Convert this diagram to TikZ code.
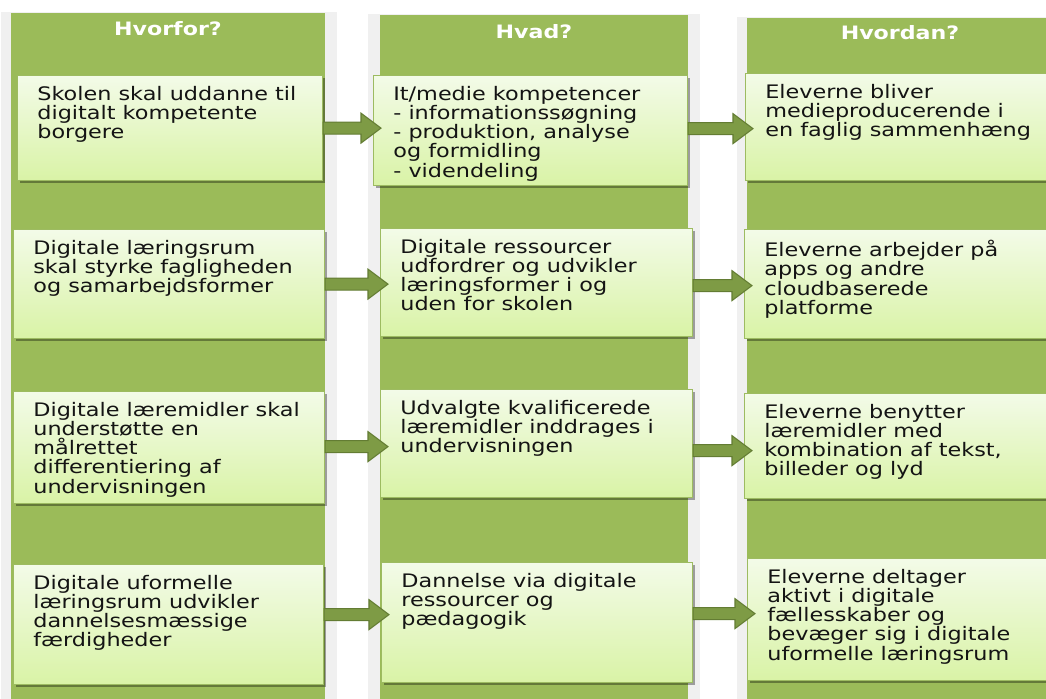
\documentclass[tikz,border=0pt]{standalone}
\usepackage{fontspec}
\setmainfont[FakeStretch=1.2]{DejaVu Sans}
\usetikzlibrary{positioning,calc,shadows}
\definecolor{colgreen}{HTML}{9BBB59}
\definecolor{boxtop}{HTML}{F3FBE8}
\definecolor{boxbot}{HTML}{D9F3A6}
\definecolor{boxline}{HTML}{9DBB61}
\definecolor{arrfill}{HTML}{7E9B45}
\definecolor{arrline}{HTML}{637C33}
\definecolor{framegray}{HTML}{F0F0F0}
\definecolor{bodytext}{HTML}{141414}

% block arrow from one box to the next, #3 = vertical shift in px
\newcommand{\stepArrow}[3]{%
  \coordinate (as) at ($(#1.east)+(0,#3)$);
  \coordinate (at) at ($(#2.west|-as)+(8,0)$);
  \draw[flowarrow] ($(as)+(0,-6)$) -- ($(at)+(-20,-6)$) -- ($(at)+(-20,-15)$) -- (at)
    -- ($(at)+(-20,15)$) -- ($(at)+(-20,6)$) -- ($(as)+(0,6)$) -- cycle;
}

\begin{document}
\begin{tikzpicture}[x=0.02cm,y=-0.02cm]
\tikzset{cellbox/.style={anchor=north west, inner sep=0, draw=boxline, line width=0.7pt, top color=boxtop, bottom color=boxbot, drop shadow={shadow xshift=1.2pt, shadow yshift=-1.6pt, opacity=0.35, fill=black}}}
\tikzset{celltext/.style={anchor=north west, inner sep=0, align=left, text=bodytext, font=\fontsize{10.6}{10.9}\selectfont}}
\tikzset{coltitle/.style={text=white, font=\bfseries\fontsize{10.5}{12}\selectfont}}
\tikzset{flowarrow/.style={fill=arrfill, draw=arrline, line width=0.6pt, line join=miter}}
\useasboundingbox (0,0) rectangle (1046,699);
\clip (0,0) rectangle (1046,699);

% columns
\fill[framegray] (1,12) rectangle (337,720);
\fill[framegray] (368,14) rectangle (700,720);
\fill[framegray] (737,17) rectangle (1060,720);
\fill[colgreen] (11,13) rectangle (325,720);
\fill[colgreen] (380,15) rectangle (688,720);
\fill[colgreen] (747,18) rectangle (1060,720);

\node[coltitle] (h1) at (168,29) {Hvorfor?};
\node[coltitle] (h2) at (534,32) {Hvad?};
\node[coltitle] (h3) at (900,33) {Hvordan?};

% row 1
\node[cellbox, minimum width=6.10cm, minimum height=2.10cm] (b11) at (17,75) {};
\node[cellbox, minimum width=6.28cm, minimum height=2.20cm] (b12) at (373,75) {};
\node[cellbox, minimum width=6.30cm, minimum height=2.14cm] (b13) at (745,73) {};
% row 2
\node[cellbox, minimum width=6.22cm, minimum height=2.18cm] (b21) at (13,229) {};
\node[cellbox, minimum width=6.24cm, minimum height=2.16cm] (b22) at (380,228) {};
\node[cellbox, minimum width=6.30cm, minimum height=2.18cm] (b23) at (744,229) {};
% row 3
\node[cellbox, minimum width=6.22cm, minimum height=2.24cm] (b31) at (13,391) {};
\node[cellbox, minimum width=6.24cm, minimum height=2.16cm] (b32) at (380,389) {};
\node[cellbox, minimum width=6.30cm, minimum height=2.10cm] (b33) at (744,393) {};
% row 4
\node[cellbox, minimum width=6.20cm, minimum height=2.40cm] (b41) at (13,564) {};
\node[cellbox, minimum width=6.22cm, minimum height=2.40cm] (b42) at (381,562) {};
\node[cellbox, minimum width=6.30cm, minimum height=2.44cm] (b43) at (747,558) {};

\node[celltext] (t11) at ($(b11.north west)+(20,11)$) {Skolen skal uddanne til\\digitalt kompetente\\borgere};
\node[celltext] (t12) at ($(b12.north west)+(20,11)$) {It/medie kompetencer\\- informationssøgning\\- produktion, analyse\\og formidling\\- videndeling};
\node[celltext] (t13) at ($(b13.north west)+(20,11)$) {Eleverne bliver\\medieproducerende i\\en faglig sammenhæng};
\node[celltext] (t21) at ($(b21.north west)+(20,11)$) {Digitale læringsrum\\skal styrke fagligheden\\og samarbejdsformer};
\node[celltext] (t22) at ($(b22.north west)+(20,11)$) {Digitale ressourcer\\udfordrer og udvikler\\læringsformer i og\\uden for skolen};
\node[celltext] (t23) at ($(b23.north west)+(20,11)$) {Eleverne arbejder på\\apps og andre\\cloudbaserede\\platforme};
\node[celltext] (t31) at ($(b31.north west)+(20,11)$) {Digitale læremidler skal\\understøtte en\\målrettet\\differentiering af\\undervisningen};
\node[celltext] (t32) at ($(b32.north west)+(20,11)$) {Udvalgte kvalificerede\\læremidler inddrages i\\undervisningen};
\node[celltext] (t33) at ($(b33.north west)+(20,11)$) {Eleverne benytter\\læremidler med\\kombination af tekst,\\billeder og lyd};
\node[celltext] (t41) at ($(b41.north west)+(20,11)$) {Digitale uformelle\\læringsrum udvikler\\dannelsesmæssige\\færdigheder};
\node[celltext] (t42) at ($(b42.north west)+(20,11)$) {Dannelse via digitale\\ressourcer og\\pædagogik};
\node[celltext] (t43) at ($(b43.north west)+(20,11)$) {Eleverne deltager\\aktivt i digitale\\fællesskaber og\\bevæger sig i digitale\\uformelle læringsrum};

% arrows
\stepArrow{b11}{b12}{0}
\stepArrow{b12}{b13}{-2}
\stepArrow{b21}{b22}{0}
\stepArrow{b22}{b23}{3}
\stepArrow{b31}{b32}{-1}
\stepArrow{b32}{b33}{7}
\stepArrow{b41}{b42}{-10}
\stepArrow{b42}{b43}{-9}
\end{tikzpicture}
\end{document}
